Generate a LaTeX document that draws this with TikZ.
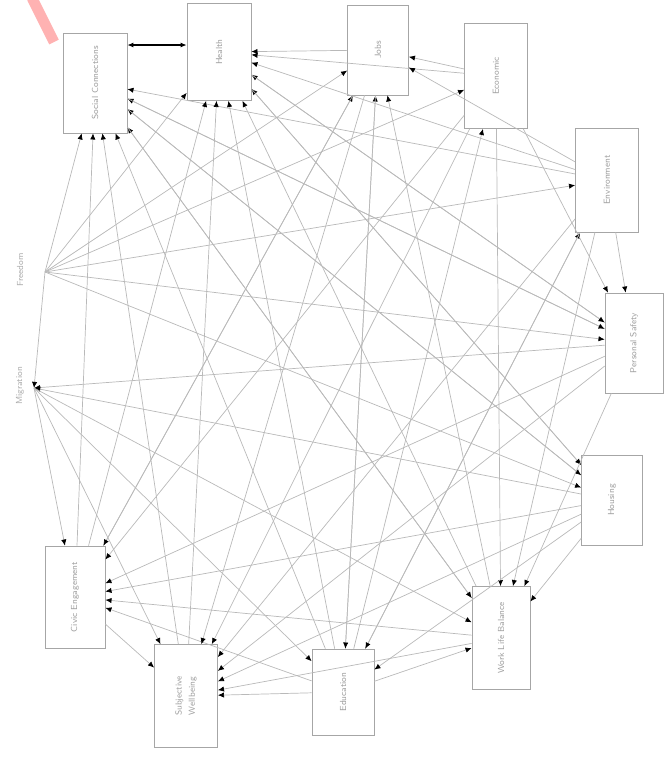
\documentclass[tikz,border=0pt]{standalone}
\usepackage{graphicx}
\usetikzlibrary{arrows.meta}
\begin{document}
\begin{tikzpicture}[x=0.02cm,y=-0.02cm,font=\tiny\sffamily,
  box/.style={draw=gray!70,fill=white,text=gray!75,inner sep=0pt},
  link/.style={draw=gray!55,line width=0.4pt,-{Latex[length=3.5pt,width=3pt,black]}},
  tag/.style={text=gray!65}]
  \useasboundingbox (0,0) rectangle (665,761);
  \draw[red!30,line width=6pt] (32,-2) -- (54,42);
  % boxes
  \node[box,minimum width=1.28cm,minimum height=2.00cm] (sc) at (95,83)   {\rotatebox{90}{Social Connections}};
  \node[box,minimum width=1.28cm,minimum height=1.94cm] (hl) at (219,52)  {\rotatebox{90}{Health}};
  \node[box,minimum width=1.22cm,minimum height=1.80cm] (jb) at (378,50)  {\rotatebox{90}{Jobs}};
  \node[box,minimum width=1.26cm,minimum height=2.10cm] (ec) at (496,76)  {\rotatebox{90}{Economic}};
  \node[box,minimum width=1.26cm,minimum height=2.08cm] (en) at (607,180) {\rotatebox{90}{Environment}};
  \node[box,minimum width=1.16cm,minimum height=2.00cm] (ps) at (634,343) {\rotatebox{90}{Personal Safety}};
  \node[box,minimum width=1.22cm,minimum height=1.80cm] (ho) at (612,500) {\rotatebox{90}{Housing}};
  \node[box,minimum width=1.16cm,minimum height=2.06cm] (wl) at (501,638) {\rotatebox{90}{Work Life Balance}};
  \node[box,minimum width=1.24cm,minimum height=1.72cm] (ed) at (343,692) {\rotatebox{90}{Education}};
  \node[box,minimum width=1.26cm,minimum height=2.06cm] (sw) at (186,696) {\rotatebox{90}{\shortstack{Subjective\\Wellbeing}}};
  \node[box,minimum width=1.20cm,minimum height=2.04cm] (ce) at (75,597)  {\rotatebox{90}{Civic Engagement}};
  % loose labels
  \node[tag] (frlab) at (20,270) {\rotatebox{90}{Freedom}};
  \node[tag] (milab) at (20,386) {\rotatebox{90}{Migration}};
  \coordinate (fr) at (45,272);
  \coordinate (mi) at (34,388);
  % links
  \draw[black,line width=0.9pt,{Latex[length=3.5pt,width=3pt]}-{Latex[length=3.5pt,width=3pt]}] (sc.east |- 0,45) -- (hl.west |- 0,45);
  \foreach \a/\b in {jb/hl,ec/jb,ec/hl,en/hl,en/sc,en/jb,ps/hl,ps/sc,ps/mi,ps/ce,ps/sw,
                     ho/hl,ho/sc,ho/sw,ho/ce,ho/mi,wl/hl,wl/sc,wl/sw,wl/ce,wl/jb,
                     ed/sw,ed/wl,ed/hl,ed/sc,ed/jb,ed/ec,ed/ce,ed/en,
                     sw/hl,sw/sc,ce/sc,ce/hl,ce/sw,ce/jb,
                     fr/sc,fr/hl,fr/jb,fr/ec,fr/en,fr/ps,fr/ho,fr/mi,
                     mi/ce,mi/sw,mi/wl,mi/ed,
                     ec/wl,ec/sw,ec/ce,ec/ps,jb/sw,jb/ed,jb/ce,en/wl,en/ed,en/sw,en/ps,
                     hl/ps,hl/ho,sc/ps,sc/ho,sc/wl,ps/wl,ho/ed,ho/wl}
    \draw[link] (\a) -- (\b);
\end{tikzpicture}
\end{document}
